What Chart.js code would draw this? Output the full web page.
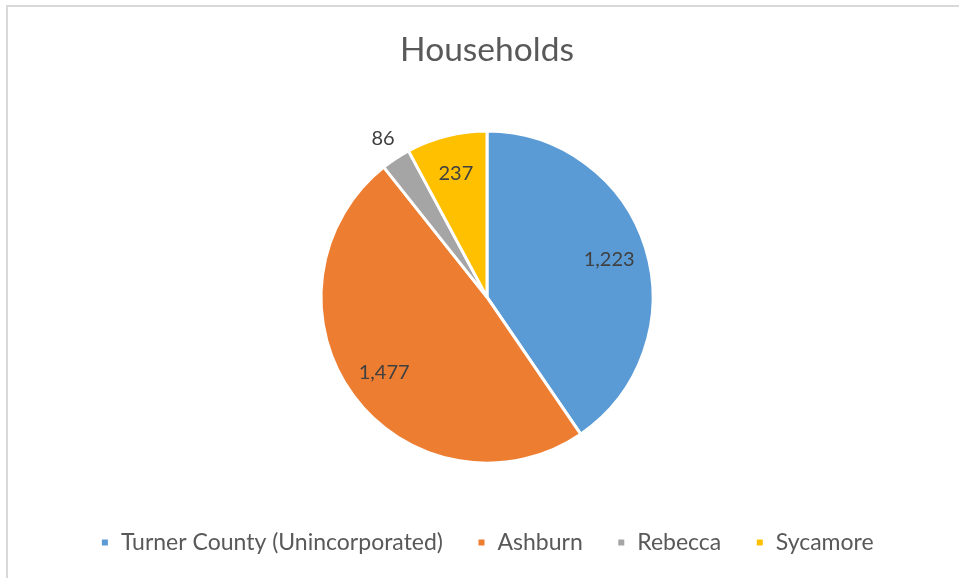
<!DOCTYPE html>
<html>
<head>
<meta charset="utf-8">
<script src="https://cdn.jsdelivr.net/npm/chart.js@4.4.1/dist/chart.umd.min.js"></script>
<style>
    html, body { margin: 0; padding: 0; background: #fff; overflow: hidden; }
    #frame {
        position: absolute; left: 6px; top: 5px; width: 1000px; height: 1000px;
        border-top: 2px solid #d9d9d9; border-left: 2px solid #d9d9d9;
    }
    #wrap { position: absolute; left: 0; top: 0; width: 959px; height: 600px; }
</style>
</head>
<body>
<div id="frame"></div>
<div id="wrap"><canvas id="chart"></canvas></div>
<script>
// Households by place
const places = ['Turner County (Unincorporated)', 'Ashburn', 'Rebecca', 'Sycamore'];
const households = [1223, 1477, 86, 237];
const sliceColors = ['#5B9BD5', '#ED7D31', '#A5A5A5', '#FFC000'];

const FONT = 'Lato, "Open Sans", sans-serif';

// value labels: inside the slice, outside for thin ones
const sliceLabels = {
    id: 'sliceLabels',
    afterDatasetsDraw(chart) {
        const ctx = chart.ctx;
        const meta = chart.getDatasetMeta(0);
        ctx.save();
        ctx.font = '20px ' + FONT;
        ctx.fillStyle = '#404040';
        ctx.textAlign = 'center';
        ctx.textBaseline = 'middle';
        meta.data.forEach((arc, i) => {
            const { x, y, startAngle, endAngle, outerRadius } = arc.getProps(['x', 'y', 'startAngle', 'endAngle', 'outerRadius'], true);
            const mid = (startAngle + endAngle) / 2;
            const frac = (endAngle - startAngle) / (2 * Math.PI);
            const r = frac < 0.05 ? outerRadius * 1.14 : outerRadius * 0.77;
            ctx.fillText(households[i].toLocaleString('en-US'), x + Math.cos(mid) * r, y + Math.sin(mid) * r);
        });
        ctx.restore();
    }
};

new Chart(document.getElementById('chart'), {
    type: 'pie',
    data: {
        labels: places,
        datasets: [{
            data: households,
            backgroundColor: sliceColors,
            borderColor: '#ffffff',
            borderWidth: 3,
            radius: 166
        }]
    },
    options: {
        responsive: true,
        maintainAspectRatio: false,
        animation: false,
        layout: { padding: { left: 15, right: 0, top: 0, bottom: 36 } },
        plugins: {
            title: {
                display: true,
                text: 'Households',
                color: '#595959',
                font: { family: FONT, size: 33.5, weight: 'normal' },
                padding: { top: 30, bottom: 27 }
            },
            legend: {
                position: 'bottom',
                labels: {
                    color: '#595959',
                    font: { family: FONT, size: 23 },
                    boxWidth: 9,
                    boxHeight: 9,
                    padding: 34
                }
            },
            tooltip: { enabled: false }
        }
    },
    plugins: [sliceLabels]
});
</script>
</body>
</html>
